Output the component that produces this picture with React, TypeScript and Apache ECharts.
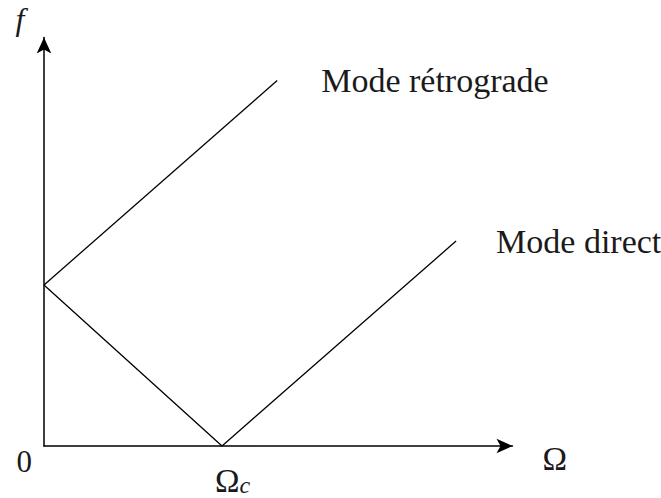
import React, { useEffect, useRef } from "react";
import * as echarts from "echarts";

// Data (x in units of Ω_c, y in units of f at Ω = 0)
const OMEGA_C = 1;
const F0 = 1;
const retrogradeMode: [number, number][] = [
  [0, F0],
  [1.31, 2.27],
];
const directMode: [number, number][] = [
  [0, F0],
  [OMEGA_C, 0],
  [2.315, 1.273],
];
const seriesNames = ["Mode rétrograde", "Mode direct"];
const X_MAX = 2.632;
const Y_MAX = 2.537;

const FONT = '"Liberation Serif", "DejaVu Serif", serif';
const TXT = "#1a1a1a";

export default function App() {
  const ref = useRef<HTMLDivElement>(null);
  useEffect(() => {
    document.body.style.margin = "0";
    if (!ref.current) return;
    const chart = echarts.init(ref.current, null, { renderer: "svg" });
    const endLabel = (dist: number) => ({
      show: true,
      formatter: "{a}",
      distance: dist,
      fontSize: 34,
      fontFamily: FONT,
      color: TXT,
    });
    chart.setOption({
      animation: false,
      backgroundColor: "#fff",
      grid: {
        left: 44,
        right: 148.5,
        top: 37.5,
        bottom: 52,
        outerBoundsMode: "none",
      },
      xAxis: {
        type: "value",
        min: 0,
        max: X_MAX,
        interval: 1,
        name: "Ω",
        nameLocation: "end",
        nameGap: 30,
        nameTextStyle: {
          fontSize: 33,
          fontFamily: FONT,
          color: TXT,
          verticalAlign: "top",
          lineHeight: 26,
        },
        axisLine: {
          show: true,
          symbol: ["none", "arrow"],
          symbolSize: [11, 16],
          lineStyle: { color: "#000", width: 1.5 },
        },
        axisTick: { show: false },
        splitLine: { show: false },
        axisLabel: {
          margin: 19,
          showMinLabel: true,
          showMaxLabel: false,
          formatter: (v: number) => (v === OMEGA_C ? "{o|Ω}{c|c}" : ""),
          rich: {
            o: {
              fontSize: 33,
              fontFamily: FONT,
              color: TXT,
              lineHeight: 32,
              padding: [0, 0, 0, 21],
            },
            c: {
              fontSize: 24,
              fontStyle: "italic",
              fontFamily: FONT,
              color: TXT,
              lineHeight: 17,
              verticalAlign: "bottom",
            },
          },
        },
      },
      yAxis: {
        type: "value",
        min: 0,
        max: Y_MAX,
        interval: 1,
        name: "f",
        nameLocation: "end",
        nameGap: 3,
        nameTextStyle: {
          fontSize: 32,
          fontStyle: "italic",
          fontFamily: FONT,
          color: TXT,
          padding: [0, 48, 0, 0],
        },
        axisLine: {
          show: true,
          symbol: ["none", "arrow"],
          symbolSize: [11, 16],
          lineStyle: { color: "#000", width: 1.5 },
        },
        axisTick: { show: false },
        splitLine: { show: false },
        axisLabel: {
          show: true,
          margin: 12,
          showMinLabel: true,
          showMaxLabel: false,
          formatter: (v: number) => (v === 0 ? "0" : ""),
          fontSize: 31,
          fontFamily: FONT,
          color: TXT,
          verticalAlign: "top",
          lineHeight: 30,
        },
      },
      series: [
        {
          name: seriesNames[0],
          type: "line",
          data: retrogradeMode,
          symbol: "none",
          lineStyle: { color: "#000", width: 1.3 },
          endLabel: endLabel(44),
        },
        {
          name: seriesNames[1],
          type: "line",
          data: directMode,
          symbol: "none",
          lineStyle: { color: "#000", width: 1.3 },
          endLabel: endLabel(40),
        },
      ],
    });
    return () => chart.dispose();
  }, []);
  return <div ref={ref} style={{ width: 661, height: 498 }} />;
}
